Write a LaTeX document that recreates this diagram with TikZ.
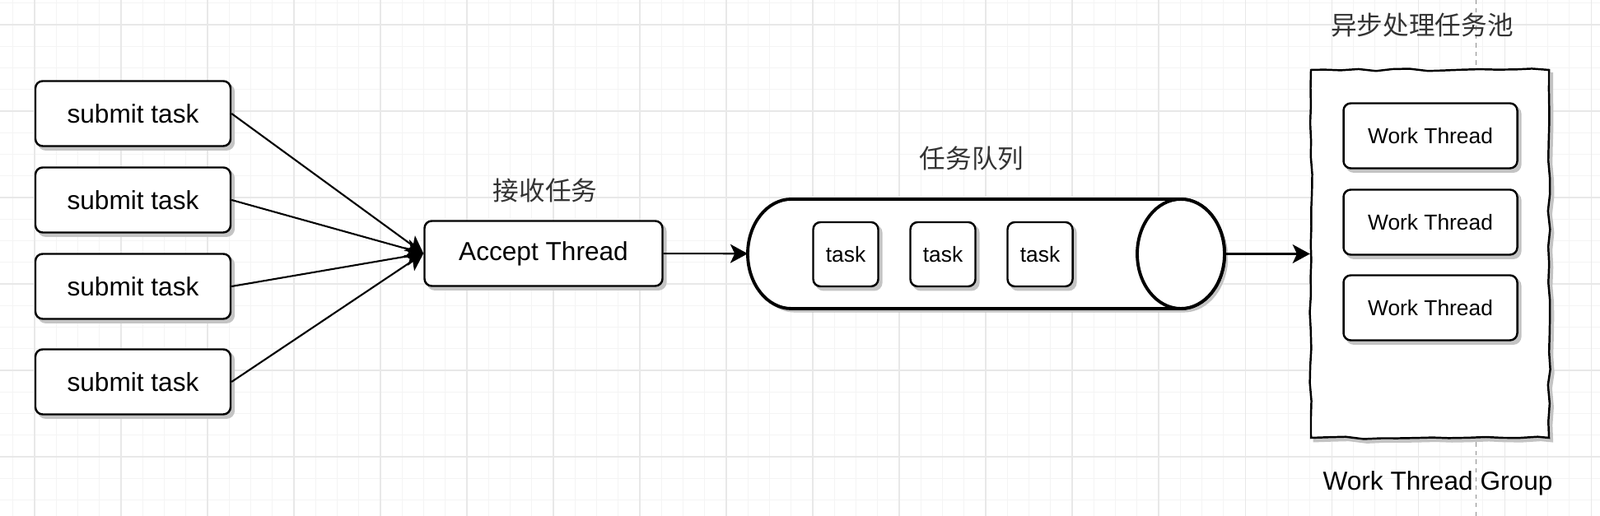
\documentclass[tikz,border=0pt]{standalone}
\usepackage{fontspec}
\setmainfont{Liberation Sans}
\newfontfamily\cjkfont{Noto Sans CJK SC}
\usetikzlibrary{arrows.meta, positioning, decorations.pathmorphing}
\definecolor{minorline}{HTML}{F4F4F4}
\definecolor{majorline}{HTML}{E8E8E8}
\definecolor{shadowgray}{HTML}{C4C4C4}
\tikzset{
  castshadow/.style={
    preaction={draw=shadowgray, fill=shadowgray, transform canvas={xshift=2.2pt, yshift=-2.4pt}}
  },
  submitbox/.style={
    rectangle,
    rounded corners=5pt,
    draw,
    line width=1.4pt,
    fill=white,
    castshadow,
    align=center,
    minimum width=4.74cm,
    minimum height=1.58cm,
    font=\fontsize{18}{22}\selectfont
  },
  workbox/.style={
    submitbox,
    minimum width=4.22cm,
    font=\fontsize{15}{18}\selectfont
  },
  taskbox/.style={
    submitbox,
    minimum width=1.58cm,
    minimum height=1.56cm,
    font=\fontsize{15}{18}\selectfont
  },
  poolbox/.style={
    rectangle,
    draw,
    line width=1.4pt,
    fill=white,
    castshadow,
    decorate,
    decoration={random steps, segment length=12pt, amplitude=0.9pt},
    minimum width=5.78cm,
    minimum height=8.94cm
  },
  queueline/.style={draw, line width=2.2pt, fill=white},
  anchorbox/.style={inner sep=0pt, outer sep=0pt, minimum width=11.58cm, minimum height=2.66cm},
  label/.style={font=\fontsize{18}{22}\selectfont},
  cjklabel/.style={font=\cjkfont\fontsize{18}{22}\selectfont, text=black!80},
  arrow/.style={-{Stealth[length=12pt, width=13pt, inset=3pt]}, line width=1.2pt}
}

\begin{document}
\begin{tikzpicture}[x=1cm,y=1cm]
\useasboundingbox (0,0) rectangle (38.86,12.54);
% background grid
\begin{scope}[shift={(0.84,11.94)}]
\draw[minorline, line width=0.5pt, step=0.525] (-0.84,-11.94) grid (38.02,0.6);
\draw[majorline, line width=0.6pt, step=2.1] (-0.84,-11.94) grid (38.02,0.6);
\end{scope}
\draw[black!45, dashed, line width=0.5pt] (35.84,0) -- (35.84,12.54);

\node[submitbox] (submit1) at (3.23,9.78) {submit task};
\node[submitbox] (submit2) at (3.23,7.68) {submit task};
\node[submitbox] (submit3) at (3.23,5.58) {submit task};
\node[submitbox] (submit4) at (3.23,3.26) {submit task};

\node[submitbox, minimum width=5.78cm] (accept) at (13.2,6.38) {Accept Thread};
\node[cjklabel] (acceptlabel) at (13.24,7.9) {接收任务};

% queue drawn as a lying cylinder
\node[anchorbox] (queue) at (23.95,6.37) {};
\path[queueline, castshadow] ([xshift=1.06cm]queue.north west) -- ([xshift=-1.06cm]queue.north east)
  arc[start angle=90, end angle=-90, x radius=1.06, y radius=1.33]
  -- ([xshift=1.06cm]queue.south west)
  arc[start angle=270, end angle=90, x radius=1.06, y radius=1.33] -- cycle;
\draw[queueline] ([xshift=-1.06cm]queue.east) ellipse[x radius=1.06, y radius=1.33];
\node[taskbox] (task1) at (20.54,6.36) {task};
\node[taskbox] (task2) at (22.90,6.36) {task};
\node[taskbox] (task3) at (25.26,6.36) {task};
\node[cjklabel] (queuelabel) at (23.6,8.68) {任务队列};

\node[poolbox] (pool) at (34.73,6.37) {};
\node[workbox] (work1) at (34.74,9.24) {Work Thread};
\node[workbox] (work2) at (34.74,7.14) {Work Thread};
\node[workbox] (work3) at (34.74,5.06) {Work Thread};
\node[cjklabel] (poollabel) at (34.54,11.92) {异步处理任务池};
\node[label] (grouplabel) at (34.92,0.8) {Work Thread Group};

\draw[arrow] (submit1.east) -- (accept.west);
\draw[arrow] (submit2.east) -- (accept.west);
\draw[arrow] (submit3.east) -- (accept.west);
\draw[arrow] (submit4.east) -- (accept.west);
\draw[arrow] (accept) -- (queue);
\draw[arrow] (queue) -- (pool);
\end{tikzpicture}
\end{document}
